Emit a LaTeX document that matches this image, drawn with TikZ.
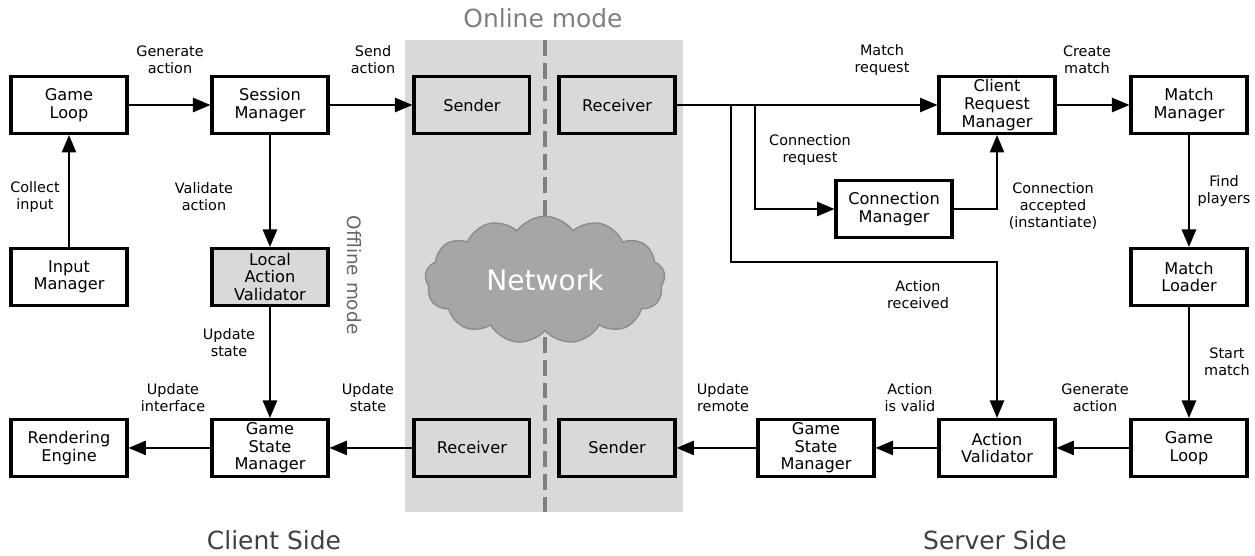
\documentclass[tikz,border=0pt]{standalone}
\usepackage{fontspec}
\setmainfont{DejaVu Sans}
\usepackage{tikz}
\usetikzlibrary{arrows,backgrounds,calc,positioning,shapes.symbols}
\definecolor{bgGray}{HTML}{D9D9D9}
\definecolor{cloudGray}{HTML}{A6A6A6}
\definecolor{lineGray}{HTML}{7F7F7F}

\begin{document}
\begin{tikzpicture}[x=0.02cm,y=-0.02cm,on grid,every path/.style={line width=1.3pt},>=triangle 45]
  \tikzstyle{blk} = [draw,line width=1.8pt,minimum width=2.32cm,minimum height=1.14cm,inner sep=1pt,align=center,font=\fontsize{9.2}{10}\selectfont];
  \tikzstyle{gblk} = [blk,fill=bgGray];
  \tikzstyle{lbl} = [align=center,font=\fontsize{8.2}{9.6}\selectfont];
  \useasboundingbox (0,0) rectangle (1255,555);
  % online mode area
  \fill[bgGray] (405,40) rectangle (683,512);
  \draw[lineGray,line width=2.3pt,dash pattern=on 9pt off 4pt] (545,40) -- (545,512);
  \node[cloud,cloud puffs=13,cloud puff arc=110,aspect=2,draw=lineGray!90,fill=cloudGray,line width=0.8pt,minimum width=4.8cm,minimum height=2.55cm,text=white,font=\fontsize{16}{18}\selectfont] (net) at (545,280) {Network};
  \node[text=lineGray,font=\fontsize{14.2}{16}\selectfont] (online) at (543,18) {Online mode};
  \node[text=lineGray!80!black,rotate=-90,font=\fontsize{10.5}{12}\selectfont] (offline) at (354,275) {Offline mode};
  \node[text=black!75,font=\fontsize{14.2}{16}\selectfont] (client) at (274,540) {Client Side};
  \node[text=black!75,font=\fontsize{14.2}{16}\selectfont] (server) at (995,540) {Server Side};

  % client side
  \node[blk] (gl) at (69,105) {Game\\Loop};
  \node[blk,right=4.02cm of gl] (sm) {Session\\Manager};
  \node[gblk,right=4.04cm of sm] (snd) {Sender};
  \node[blk,below=3.44cm of gl] (im) {Input\\Manager};
  \node[gblk,below=3.44cm of sm] (lav) {Local\\Action\\Validator};
  \node[blk,below=3.42cm of im] (re) {Rendering\\Engine};
  \node[blk,below=3.42cm of lav] (gsm) {Game\\State\\Manager};
  \node[gblk,right=4.04cm of gsm] (rcvc) {Receiver};

  % server side
  \node[gblk] (rcv) at (617,105) {Receiver};
  \node[gblk,below=6.86cm of rcv] (sndc) {Sender};
  \node[blk] (crm) at (997,105) {Client\\Request\\Manager};
  \node[blk,right=3.84cm of crm] (mm) {Match\\Manager};
  \node[blk] (cm) at (894,209) {Connection\\Manager};
  \node[blk,below=3.44cm of mm] (ml) {Match\\Loader};
  \node[blk,below=3.42cm of ml] (gls) {Game\\Loop};
  \node[blk,left=3.84cm of gls] (av) {Action\\Validator};
  \node[blk,left=3.62cm of av] (gsms) {Game\\State\\Manager};

  % client connectors
  \draw[->] (gl) -- (sm);
  \draw[->] (sm) -- (snd);
  \draw[->] (im) -- (gl);
  \draw[->] (sm) -- (lav);
  \draw[->] (lav) -- (gsm);
  \draw[->] (rcvc) -- (gsm);
  \draw[->] (gsm) -- (re);
  \node[lbl] (l1) at (170,60) {Generate\\action};
  \node[lbl] (l2) at (373,60) {Send\\action};
  \node[lbl] (l3) at (35,197) {Collect\\input};
  \node[lbl] (l4) at (204,197) {Validate\\action};
  \node[lbl] (l5) at (229,343) {Update\\state};
  \node[lbl] (l6) at (173,398) {Update\\interface};
  \node[lbl] (l7) at (368,398) {Update\\state};

  % server connectors
  \coordinate (b1) at (755,105);
  \coordinate (b2) at (731,105);
  \coordinate (b3) at (997,262);
  \draw[->] (rcv) -- (crm);
  \draw[->] (b1) |- (cm);
  \draw[->] (cm) -| (crm);
  \draw[->] (b2) |- (b3) -- (av);
  \draw[->] (crm) -- (mm);
  \draw[->] (mm) -- (ml);
  \draw[->] (ml) -- (gls);
  \draw[->] (gls) -- (av);
  \draw[->] (av) -- (gsms);
  \draw[->] (gsms) -- (sndc);
  \node[lbl] (l8) at (882,60) {Match\\request};
  \node[lbl] (l9) at (810,150) {Connection\\request};
  \node[lbl] (l10) at (1053,206) {Connection\\accepted\\(instantiate)};
  \node[lbl] (l11) at (918,295) {Action\\received};
  \node[lbl] (l12) at (1087,60) {Create\\match};
  \node[lbl] (l13) at (1224,191) {Find\\players};
  \node[lbl] (l14) at (1227,362) {Start\\match};
  \node[lbl] (l15) at (1095,398) {Generate\\action};
  \node[lbl] (l16) at (910,398) {Action\\is valid};
  \node[lbl] (l17) at (723,398) {Update\\remote};
\end{tikzpicture}
\end{document}
